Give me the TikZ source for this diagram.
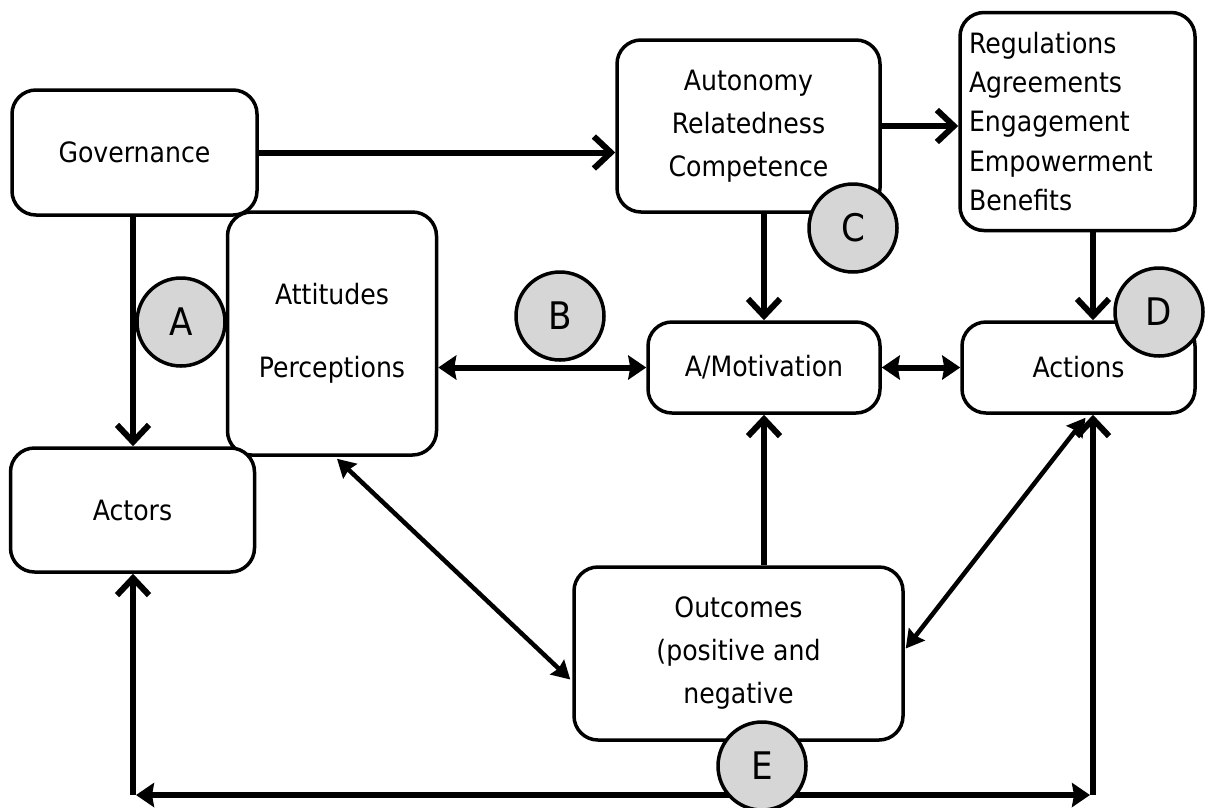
\documentclass[tikz,border=0pt]{standalone}
\usepackage{fontspec}
\setmainfont{DejaVu Sans Condensed}
\usetikzlibrary{arrows.meta,calc}
\definecolor{badge}{HTML}{D6D6D6}
\newcommand\boxfont{\fontsize{28pt}{43pt}\selectfont}
\newcommand\badgefont{\fontsize{38pt}{40pt}\selectfont}
\begin{document}
\begin{tikzpicture}[x=1pt,y=-1pt,
  box/.style={draw, line width=3.5pt, rounded corners=24pt, align=center,
    inner sep=0pt, font=\boxfont, fill=white},
  badge/.style={draw, circle, line width=3.5pt, fill=badge, minimum size=88pt,
    inner sep=0pt, font=\badgefont},
  conn/.style={line width=6pt, -{Straight Barb[length=17pt,width=32pt]}},
  dbl/.style={line width=6pt,
    {Stealth[length=18pt,width=24pt,inset=2pt]}-{Stealth[length=18pt,width=24pt,inset=2pt]}},
  diag/.style={line width=4.5pt,
    {Stealth[length=18pt,width=20pt,inset=2pt]}-{Stealth[length=18pt,width=20pt,inset=2pt]}}]
\fill[white] (0,0) rectangle (1206,807);
\useasboundingbox (0,0) rectangle (1206,807);

% boxes
\node[box, minimum width=245pt, minimum height=125pt] (gov) at (134.5,152.5) {Governance};
\node[box, minimum width=263pt, minimum height=172pt] (aut) at (748.5,126)
  {Autonomy\\Relatedness\\Competence};
\node[box, fill=white, align=left, inner xsep=9pt, text width=217pt, minimum height=218pt,
  font=\fontsize{28pt}{39.3pt}\selectfont] (reg) at (1077.5,121.5)
  {Regulations\\Agreements\\Engagement\\Empowerment\\Benefits};
\node[box, minimum width=209pt, minimum height=243pt] (att) at (332,333.5)
  {Attitudes\\[30pt]Perceptions};
\node[box, minimum width=232pt, minimum height=91pt] (mot) at (764,367.5) {A/Motivation};
\node[box, minimum width=233pt, minimum height=91pt] (act) at (1078.5,367.5) {Actions};
\node[box, minimum width=244pt, minimum height=124pt] (actors) at (132.5,510) {Actors};
\node[box, minimum width=329pt, minimum height=173pt] (out) at (738.5,653.5)
  {Outcomes\\(positive and\\negative};

% guide positions for the vertical and bottom runs
\coordinate (lx) at (133,0);
\coordinate (rx) at (1093,0);
\coordinate (by) at (0,795);

% connectors
\draw[conn] (gov.east) -- (gov.east -| aut.west);
\draw[conn] (aut.east) -- (aut.east -| reg.west);
\draw[conn] (gov.south -| lx) -- (actors.north -| lx);
\draw[conn] (aut.south -| mot.north) -- (mot.north);
\draw[conn] (reg.south -| rx) -- (act.north -| rx);
\draw[dbl] (mot.west -| att.east) -- (mot.west);
\draw[dbl] (mot.east) -- (act.west);
\draw[conn] (out.north -| mot.south) -- (mot.south);
\draw[diag] ($(att.south)+(5,2)$) -- ($(out.west)+(-2,26)$);
\draw[diag] ($(act.south)+(7,3)$) -- ($(out.east)+(1,-5)$);
\draw[conn] (by -| lx) -- (actors.south -| lx);
\draw[conn] (by -| rx) -- (act.south -| rx);
\draw[dbl] ($(by -| lx)+(3,0)$) -- ($(by -| rx)+(-3,0)$);

% lettered markers
\node[badge] (cA) at (181,322) {A};
\node[badge] (cB) at (560,316) {B};
\node[badge] (cC) at (853,228) {C};
\node[badge] (cD) at (1159,312) {D};
\node[badge] (cE) at (762,766) {E};
\end{tikzpicture}
\end{document}
